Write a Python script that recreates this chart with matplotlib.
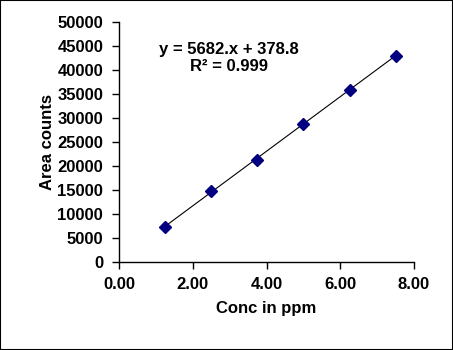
import numpy as np
import matplotlib.pyplot as plt
from matplotlib.patches import Rectangle

# calibration data
conc = [1.25, 2.50, 3.75, 5.00, 6.25, 7.50]
area = [7290, 14790, 21170, 28750, 35830, 42840]

# linear trendline as reported
slope = 5682.0
intercept = 378.8
r2 = 0.999

x_ticks = [0, 2, 4, 6, 8]
y_ticks = list(range(0, 50001, 5000))

plt.rcParams['font.family'] = ['Liberation Sans', 'DejaVu Sans']
plt.rcParams['font.weight'] = 'bold'

fig = plt.figure(figsize=(4.53, 3.5), dpi=100)
ax = fig.add_axes([0.263, 0.251, 0.651, 0.686])

xf = np.array([conc[0], conc[-1]])
ax.plot(xf, slope * xf + intercept, color='black', lw=0.8, zorder=2)
ax.plot(conc, area, ls='none', marker='D', ms=6.5, color='#000080', zorder=3)

ax.set_xlim(0, 8)
ax.set_ylim(0, 50000)
ax.set_xticks(x_ticks)
ax.set_xticklabels(['%.2f' % v for v in x_ticks])
ax.set_yticks(y_ticks)
ax.set_yticklabels([str(v) for v in y_ticks])
ax.tick_params(direction='out', length=5, width=1, labelsize=12)
ax.tick_params(axis='y', pad=6.5)
ax.tick_params(axis='x', pad=6)
for lab in ax.get_xticklabels() + ax.get_yticklabels():
    lab.set_fontweight('bold')

for s in ['top', 'right']:
    ax.spines[s].set_visible(False)
for s in ['left', 'bottom']:
    ax.spines[s].set_linewidth(1)

ax.set_xlabel('Conc in ppm', fontsize=12, fontweight='bold', labelpad=6)
ax.set_ylabel('Area counts', fontsize=12, fontweight='bold', labelpad=2)

ax.text(2.98, 42500, 'y = %d.x + %.1f\nR² = %.3f' % (slope, intercept, r2),
        ha='center', va='center', fontsize=12, fontweight='bold',
        linespacing=1.15)

# outer frame
fig.patches.append(Rectangle((0, 0), 1, 1, transform=fig.transFigure,
                             fill=False, edgecolor='black', lw=1.5))

fig.savefig('out.png', dpi=100)
